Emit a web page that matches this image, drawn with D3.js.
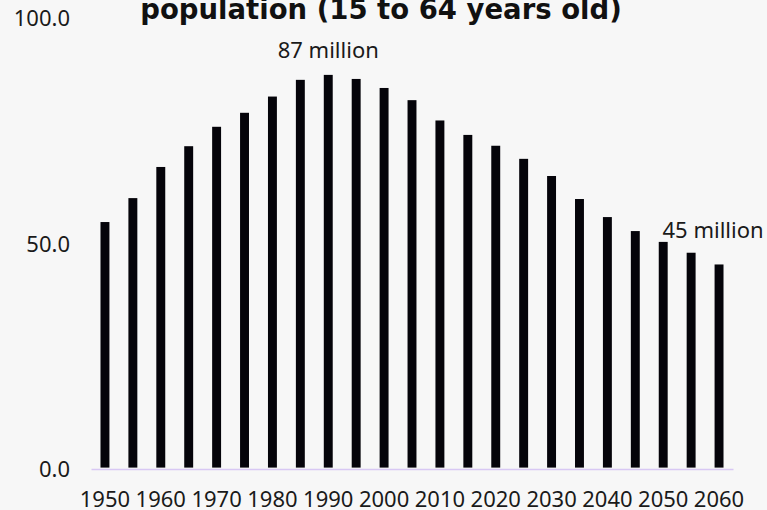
<!DOCTYPE html>
<html>
<head>
<meta charset="utf-8">
<script src="https://cdn.jsdelivr.net/npm/d3@7/dist/d3.min.js"></script>
<style>
  html, body { margin: 0; padding: 0; background: #f7f7f7; }
  svg { display: block; }
</style>
</head>
<body>
<svg id="chart" width="767" height="510"></svg>
<script>
// Working-age population (15 to 64 years old), millions, every 5 years
const years = [1950, 1955, 1960, 1965, 1970, 1975, 1980, 1985, 1990, 1995, 2000, 2005,
               2010, 2015, 2020, 2025, 2030, 2035, 2040, 2045, 2050, 2055, 2060];
const values = [54.4, 59.7, 66.6, 71.2, 75.5, 78.6, 82.2, 85.9, 87, 86.1, 84.1, 81.4,
                76.9, 73.7, 71.3, 68.4, 64.6, 59.5, 55.5, 52.4, 50.0, 47.6, 45];
const xTickYears = [1950, 1960, 1970, 1980, 1990, 2000, 2010, 2020, 2030, 2040, 2050, 2060];
const yTicks = [0, 50, 100];
const labelledYears = [1990, 2060];
const titleText = "population (15 to 64 years old)";

const data = years.map((y, i) => ({ year: y, value: values[i] }));

const svg = d3.select("#chart");
const W = 767, H = 510;
svg.append("rect").attr("width", W).attr("height", H).attr("fill", "#f7f7f7");

const x = d3.scaleBand()
  .domain(years)
  .range([91, 733])
  .paddingInner(0.68)
  .paddingOuter(0.34);

const y = d3.scaleLinear().domain([0, 100]).range([467.6, 16.2]);

const labelFont = "'Noto Sans', sans-serif";

// Title (bold, sits at the top edge)
svg.append("text")
  .attr("x", 381)
  .attr("y", 18.5)
  .attr("text-anchor", "middle")
  .attr("font-family", "'DejaVu Sans', sans-serif")
  .attr("font-weight", "bold")
  .attr("font-size", 27.5)
  .attr("fill", "#111")
  .text(titleText);

// Y tick labels
svg.append("g")
  .selectAll("text")
  .data(yTicks)
  .join("text")
  .attr("x", 70)
  .attr("y", d => y(d) + 2)
  .attr("dy", "0.357em")
  .attr("text-anchor", "end")
  .attr("font-family", labelFont)
  .attr("font-size", 22)
  .attr("fill", "#1a1a1a")
  .text(d => d3.format(".1f")(d));

// Bars
svg.append("g")
  .selectAll("rect")
  .data(data)
  .join("rect")
  .attr("x", d => x(d.year))
  .attr("y", d => y(d.value))
  .attr("width", x.bandwidth())
  .attr("height", d => y(0) - y(d.value))
  .attr("fill", "#05040a");

// Baseline axis
const xAxis = d3.axisBottom(x)
  .tickValues(xTickYears)
  .tickSize(0)
  .tickPadding(0)
  .tickFormat(d3.format("d"));

const axisG = svg.append("g")
  .attr("transform", `translate(0,${y(0) + 1.4})`)
  .call(xAxis);

axisG.select(".domain")
  .attr("stroke", "#d8c8f4")
  .attr("stroke-width", 1.6);

axisG.selectAll(".tick text")
  .attr("y", 37.6)
  .attr("dy", 0)
  .attr("font-family", labelFont)
  .attr("font-size", 22)
  .attr("fill", "#1a1a1a");

// Value labels
const labelOffsets = { 1990: { dx: 0, dy: -17 }, 2060: { dx: -6, dy: -26.5 } };
svg.append("g")
  .selectAll("text")
  .data(data.filter(d => labelledYears.includes(d.year)))
  .join("text")
  .attr("x", d => x(d.year) + x.bandwidth() / 2 + labelOffsets[d.year].dx)
  .attr("y", d => y(d.value) + labelOffsets[d.year].dy)
  .attr("text-anchor", "middle")
  .attr("font-family", labelFont)
  .attr("font-size", 22)
  .attr("fill", "#1a1a1a")
  .text(d => `${d.value} million`);
</script>
</body>
</html>
